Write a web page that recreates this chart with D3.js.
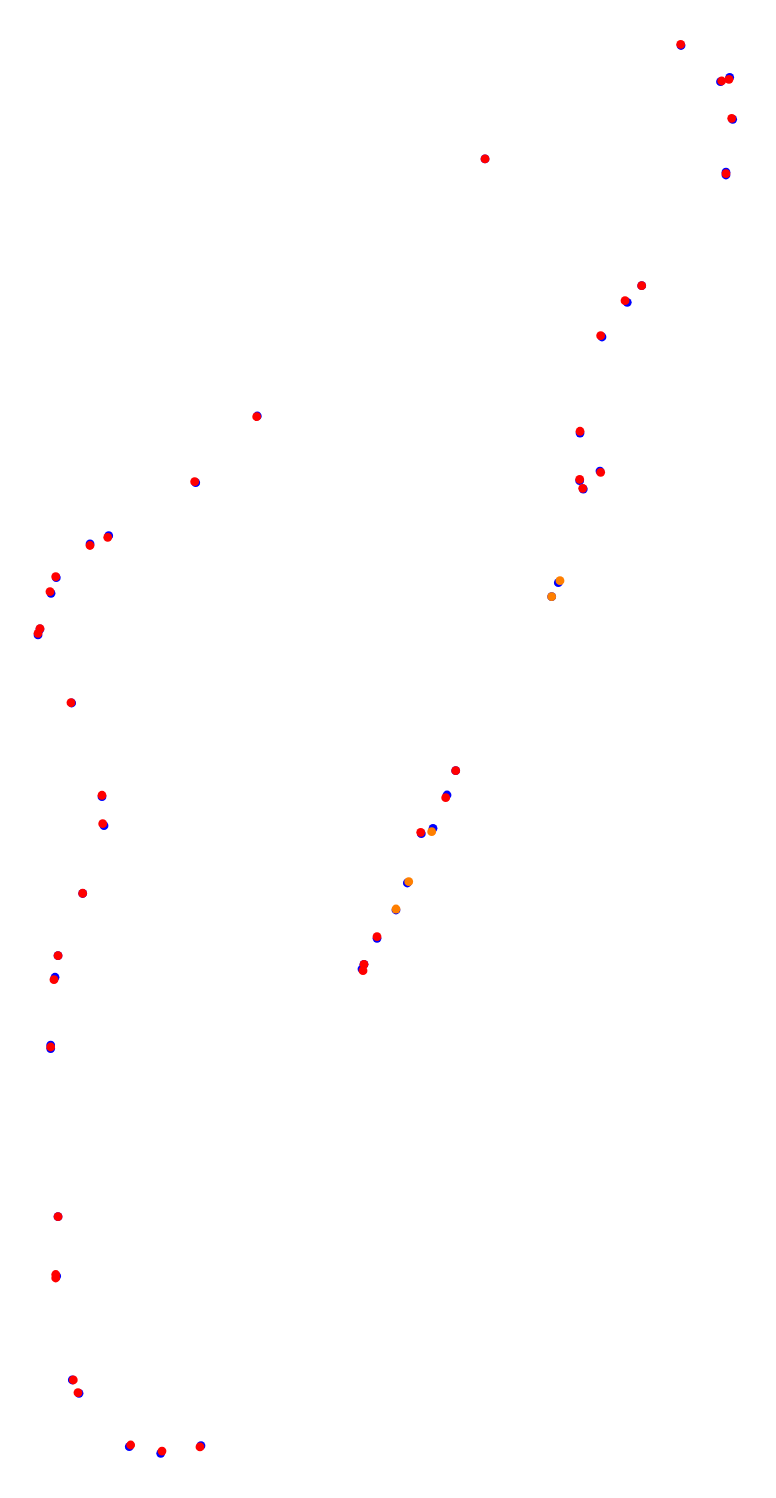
<!DOCTYPE html>
<html>
<head>
<meta charset="utf-8">
<script src="https://cdn.jsdelivr.net/npm/d3@7"></script>
<style>
  html, body { margin: 0; padding: 0; background: #fff; }
  svg { display: block; }
</style>
</head>
<body>
<div id="chart"></div>
<script>
// Series A (blue) positions, data units
const blueX = [97.29,102.93,104.24,104.67,103.71,103.71,69.29,91.67,89.61,86.0,82.86,85.71,82.81,83.33,79.76,78.81,
  36.76,27.96,15.53,12.86,8.04,7.29,5.71,5.43,10.24,65.1,63.86,60.19,61.86,58.19,56.57,53.86,52.0,51.71,
  14.57,14.86,11.81,8.29,7.86,7.24,7.24,8.29,8.1,10.33,11.29,18.47,22.96,28.71];
const blueY = [203.5,198.33,198.96,192.96,185.41,185.0,187.29,169.19,166.81,161.86,148.14,142.71,141.33,140.14,126.76,124.76,
  150.57,141.04,133.47,132.29,127.47,125.24,120.14,119.29,109.57,99.9,96.43,90.9,91.67,83.86,80.0,75.96,72.24,71.57,
  96.19,92.04,82.36,73.47,70.39,60.71,60.21,36.19,27.71,12.86,10.96,3.33,2.39,3.47];

// Series B (red / orange) positions, data units, with category
const redX = [97.24,103.1,104.14,104.53,103.71,69.29,91.67,89.29,85.81,82.86,85.81,82.81,83.24,80.0,78.81,
  36.67,27.81,15.39,12.86,7.96,7.14,5.71,5.43,10.14,65.1,63.67,60.1,61.67,58.39,56.57,53.86,52.0,51.86,
  14.57,14.67,11.81,8.29,7.71,7.24,8.29,7.96,7.96,10.47,11.14,18.67,23.14,28.57];
const redY = [203.67,198.43,198.67,193.1,185.19,187.29,169.19,167.04,162.04,148.39,142.53,141.53,140.24,127.04,124.76,
  150.47,141.19,133.24,132.07,127.61,125.47,120.19,119.53,109.61,99.9,96.04,91.1,91.19,84.04,80.14,76.19,72.24,71.33,
  96.39,92.33,82.39,73.47,70.04,60.43,36.19,27.93,27.43,12.86,11.04,3.57,2.71,3.29];
const redCat = ["r","r","r","r","r","r","r","r","r","r","r","r","r","o","o",
  "r","r","r","r","r","r","r","r","r","r","r","r","o","o","o","r","r","r",
  "r","r","r","r","r","r","r","r","r","r","r","r","r","r"];

const width = 776, height = 1498;
const svg = d3.select("#chart").append("svg").attr("width", width).attr("height", height);

const x = d3.scaleLinear().domain([0, 110]).range([0, 770]);
const y = d3.scaleLinear().domain([0, 210]).range([1470, 0]);
const color = d3.scaleOrdinal().domain(["r","o"]).range(["#ff0000","#ff7f00"]);
const r = 4.4;

const blue = blueX.map((v, i) => ({x: v, y: blueY[i]}));
const red = redX.map((v, i) => ({x: v, y: redY[i], c: redCat[i]}));

svg.append("g").selectAll("circle").data(blue).join("circle")
  .attr("cx", d => x(d.x)).attr("cy", d => y(d.y)).attr("r", r).attr("fill", "#0000ff");

svg.append("g").selectAll("circle").data(red).join("circle")
  .attr("cx", d => x(d.x)).attr("cy", d => y(d.y)).attr("r", r).attr("fill", d => color(d.c));
</script>
</body>
</html>
